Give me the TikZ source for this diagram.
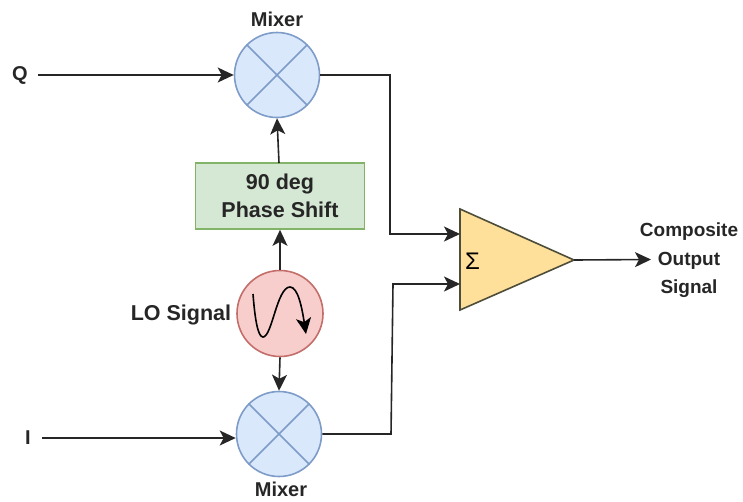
\documentclass[tikz,border=0pt]{standalone}
\usepackage{fontspec}
\setmainfont{Liberation Sans}
\usetikzlibrary{arrows.meta}
\definecolor{bluef}{HTML}{DAE8FC}
\definecolor{blued}{HTML}{7E9CC8}
\definecolor{greenf}{HTML}{D5E8D4}
\definecolor{greend}{HTML}{82B366}
\definecolor{redf}{HTML}{F8CECC}
\definecolor{redd}{HTML}{B85450}
\definecolor{yelf}{HTML}{FFE09A}
\definecolor{yeld}{HTML}{4D4D3A}
\tikzset{x=1pt,y=-1pt,
 mixer/.style={circle,draw=blued,fill=bluef,line width=1.6pt,minimum size=85pt,inner sep=0pt},
 lab/.style={font=\bfseries\fontsize{20}{24}\selectfont,align=center,text=black!85},
 conn/.style={line width=1.6pt,draw=black!85,-{Stealth[length=16pt,width=15pt,inset=4pt]}},
 xl/.style={draw=blued,line width=1.6pt}}
\begin{document}
\begin{tikzpicture}
\useasboundingbox (0,0) rectangle (743,501);
\node[mixer] (m1) at (277,75) {};
\node[mixer] (m2) at (279,434) {};
\foreach \m in {m1,m2}{
 \draw[xl] (\m.45) -- (\m.225);
 \draw[xl] (\m.135) -- (\m.-45);
}
\node[draw=greend,fill=greenf,line width=1.6pt,minimum width=169pt,minimum height=66pt,inner sep=0pt,align=center,text=black!85,font=\bfseries\fontsize{21.5}{28}\selectfont] (ps) at (280,196) {90 deg\\Phase Shift};
\node[circle,draw=redd!85,fill=redf,line width=1.6pt,minimum size=86pt,inner sep=0pt] (lo) at (280,313.5) {};
\draw[line width=1.6pt,-{Stealth[length=16pt,width=15pt,inset=4pt]}] (253,294) .. controls (255,320) and (258,337) .. (263,337) .. controls (272,337) and (277,287) .. (290,287) .. controls (298,287) and (302,308) .. (306,334);
\draw[fill=yelf,draw=yeld,line width=1.6pt] (460,209) -- (574,260) -- (460,310) -- cycle;
\coordinate (sout) at (574,260);
\node[font=\fontsize{24}{24}\selectfont] (sg) at (472.5,261) {Σ};
\node[lab] (mt) at (277,19) {Mixer};
\node[lab] (mb) at (281,489) {Mixer};
\node[lab] (q) at (20,75) {Q};
\node[lab] (i) at (28,438) {I};
\node[lab,font=\bfseries\fontsize{21.5}{24}\selectfont] (lol) at (181,314.5) {LO Signal};
\node[align=center,text=black!85,font=\bfseries\fontsize{19}{28.5}\selectfont] (out) at (689,260.5) {Composite\\Output\\Signal};
\coordinate (qs) at (38,75);
\coordinate (is) at (42,438);
\coordinate (oe) at (651,259.5);
\coordinate (a1) at (390,75);
\coordinate (a2) at (390,234);
\coordinate (t1) at (460,234);
\coordinate (b1) at (391,434);
\coordinate (b2) at (393,284);
\coordinate (t2) at (460,284);
\coordinate (pst) at (279,163);
\draw[conn] (qs) -- (m1.west);
\draw[conn] (is) -- (m2.west |- is);
\draw[conn] (pst) -- (m1.south);
\draw[conn] (lo.north) -- (ps.south);
\draw[conn] (lo.south) -- (m2.north);
\draw[conn] (m1.east) -- (a1) -- (a2) -- (t1);
\draw[conn] (m2.east) -- (b1) -- (b2) -- (t2);
\draw[conn] (sout) -- (oe);
\end{tikzpicture}
\end{document}
